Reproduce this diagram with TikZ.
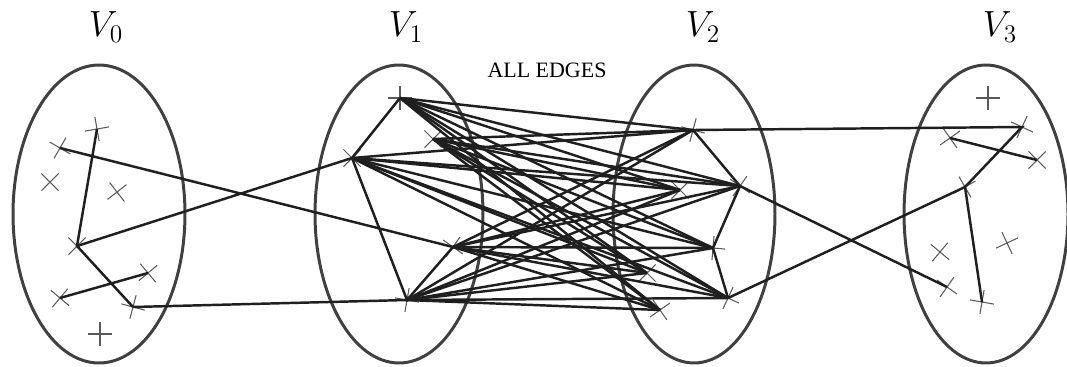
\documentclass[tikz,border=0pt]{standalone}
\usepackage{fontspec}
\setmainfont{Liberation Serif}
\usetikzlibrary{shapes.misc}

\tikzset{
  vtx/.style={cross out, draw=black!65, line width=0.6pt, minimum size=0.32cm, inner sep=0pt},
  part/.style={line width=1.7pt, draw=black!75},
  link/.style={line width=1.4pt, draw=black!88},
  setname/.style={font=\fontsize{20}{23}\selectfont}
}

\begin{document}
\begin{tikzpicture}[x=0.02cm, y=-0.02cm]
  \useasboundingbox (0,0) rectangle (1067,366);

  \draw[part]
    (99,214) ellipse (1.72cm and 2.98cm)   (399,214) ellipse (1.68cm and 2.98cm)
    (694,214) ellipse (1.62cm and 2.98cm)  (986,214) ellipse (1.64cm and 2.98cm);

  \node[setname] (lv0) at (106,27) {$V_0$};
  \node[setname] (lv1) at (406,27) {$V_1$};
  \node[setname] (lv2) at (703,27) {$V_2$};
  \node[setname] (lv3) at (1000,27) {$V_3$};
  \node[font=\fontsize{12.5}{14}\selectfont] (all) at (547,70) {ALL EDGES};

  % V_0
  \node[vtx, rotate=15] (a) at (60,148) {};
  \node[vtx, rotate=55] (b) at (97,129) {};
  \node[vtx] (x1) at (50,182) {};
  \node[vtx, rotate=-7] (x2) at (117,192) {};
  \node[vtx] (c) at (77,246) {};
  \node[vtx, rotate=5] (e) at (60,298) {};
  \node[vtx, rotate=-5] (f) at (148,273) {};
  \node[vtx, rotate=30] (d) at (133,307) {};
  \node[vtx, rotate=45] (x3) at (100,334) {};

  % V_1
  \node[vtx, rotate=45] (p) at (400,98) {};
  \node[vtx] (t) at (433,139) {};
  \node[vtx] (q) at (352,158) {};
  \node[vtx, rotate=10] (s) at (453,247) {};
  \node[vtx, rotate=35] (r) at (407,300) {};

  % V_2
  \node[vtx, rotate=30] (A) at (693,130) {};
  \node[vtx] (E) at (680,190) {};
  \node[vtx, rotate=10] (B) at (740,186) {};
  \node[vtx] (F) at (647,273) {};
  \node[vtx, rotate=40] (C) at (713,248) {};
  \node[vtx, rotate=20] (D) at (728,298) {};
  \node[vtx, rotate=-10] (G) at (660,310) {};

  % V_3
  \node[vtx, rotate=45] (y1) at (988,98) {};
  \node[vtx, rotate=20] (H) at (1022,127) {};
  \node[vtx, rotate=-10] (I) at (950,138) {};
  \node[vtx] (J) at (1037,160) {};
  \node[vtx, rotate=-15] (K) at (965,187) {};
  \node[vtx, rotate=5] (y2) at (940,252) {};
  \node[vtx, rotate=-20] (y3) at (1007,243) {};
  \node[vtx, rotate=10] (M) at (947,287) {};
  \node[vtx, rotate=35] (L) at (982,302) {};

  \draw[link]
    (b.center) -- (c.center) -- (d.center)   (e.center) -- (f.center)
    (a.center) -- (s.center)   (c.center) -- (q.center)   (d.center) -- (r.center)
    (p.center) -- (q.center) -- (r.center) -- (s.center)
    (A.center) -- (B.center) -- (C.center) -- (D.center)
    (A.center) -- (H.center) -- (K.center) -- (L.center)   (B.center) -- (M.center)
    (D.center) -- (K.center)   (I.center) -- (J.center);

  \foreach \u in {p,t,q,s,r}
    \foreach \w in {A,E,B,F,C,D,G}
      \draw[link] (\u.center) -- (\w.center);
\end{tikzpicture}
\end{document}
